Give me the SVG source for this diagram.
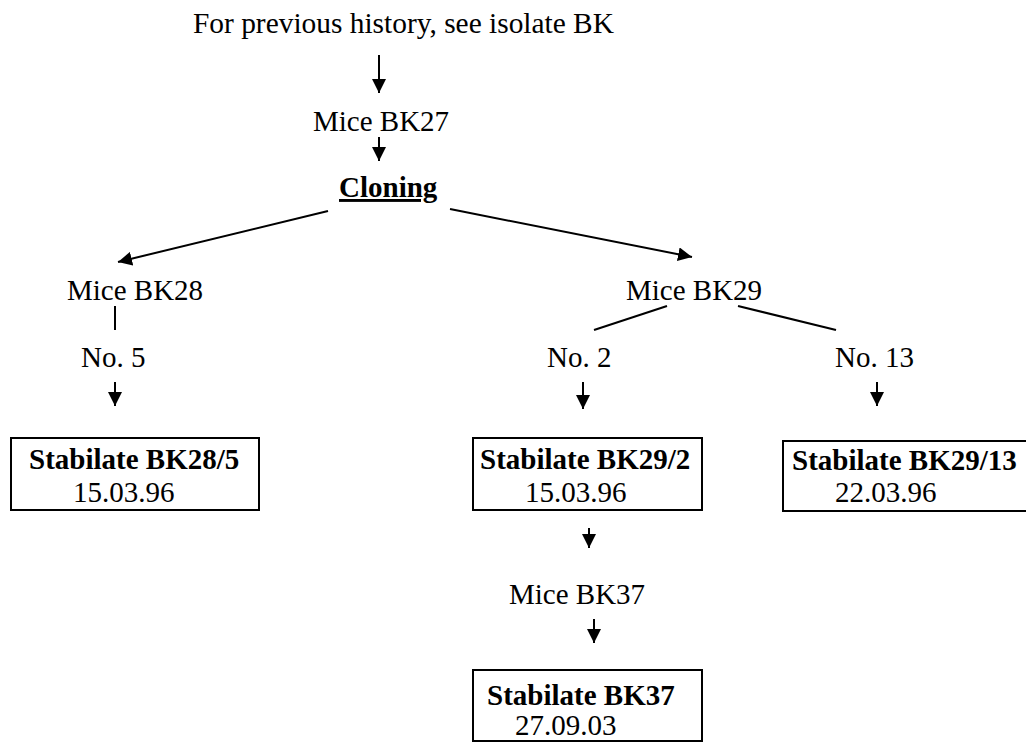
<svg xmlns="http://www.w3.org/2000/svg" width="1026" height="742" viewBox="0 0 1026 742">
<style>
text{font-family:"Liberation Serif","Times New Roman",serif;font-size:29px;fill:#000}
.b{font-weight:bold}
.box{fill:#fff;stroke:#000;stroke-width:2}
.ln{stroke:#000;stroke-width:2;fill:none}
</style>
<defs>
<marker id="ah" viewBox="0 0 14 14" refX="14" refY="7" markerWidth="14" markerHeight="14" markerUnits="userSpaceOnUse" orient="auto">
<path d="M0,0 L14,7 L0,14 Z" fill="#000"/>
</marker>
</defs>
<rect width="1026" height="742" fill="#fff"/>
<g id="connectors">
<line class="ln" x1="379" y1="55" x2="379" y2="93" marker-end="url(#ah)"/>
<line class="ln" x1="379" y1="137" x2="379" y2="161" marker-end="url(#ah)"/>
<line class="ln" x1="328" y1="211" x2="118" y2="262" marker-end="url(#ah)"/>
<line class="ln" x1="450" y1="209" x2="692" y2="257" marker-end="url(#ah)"/>
<line class="ln" x1="115" y1="306" x2="115" y2="330"/>
<line class="ln" x1="115" y1="382" x2="115" y2="406" marker-end="url(#ah)"/>
<line class="ln" x1="667" y1="306" x2="594" y2="330"/>
<line class="ln" x1="738" y1="306" x2="836" y2="330"/>
<line class="ln" x1="583" y1="382" x2="583" y2="409" marker-end="url(#ah)"/>
<line class="ln" x1="877" y1="382" x2="877" y2="406" marker-end="url(#ah)"/>
<line class="ln" x1="589" y1="528" x2="589" y2="548" marker-end="url(#ah)"/>
<line class="ln" x1="594" y1="619" x2="594" y2="643" marker-end="url(#ah)"/>
</g>
<g id="n-history"><text x="193" y="33" style="font-size:29.4px">For previous history, see isolate BK</text></g>
<g id="n-bk27"><text x="313" y="131">Mice BK27</text></g>
<g id="n-cloning"><text class="b" x="339" y="197" text-decoration="underline">Cloning</text></g>
<g id="n-bk28"><text x="67" y="300">Mice BK28</text></g>
<g id="n-no5"><text x="81" y="367">No. 5</text></g>
<g id="n-bk29"><text x="626" y="300">Mice BK29</text></g>
<g id="n-no2"><text x="547" y="367">No. 2</text></g>
<g id="n-no13"><text x="835" y="367">No. 13</text></g>
<g id="n-st285">
<rect class="box" x="11" y="438" width="248" height="72"/>
<text class="b" x="29" y="469">Stabilate BK28/5</text>
<text x="73" y="502">15.03.96</text>
</g>
<g id="n-st292">
<rect class="box" x="473" y="438" width="229" height="72"/>
<text class="b" x="480" y="469">Stabilate BK29/2</text>
<text x="525" y="502">15.03.96</text>
</g>
<g id="n-st2913">
<rect class="box" x="783" y="441" width="250" height="70"/>
<text class="b" x="792" y="470">Stabilate BK29/13</text>
<text x="835" y="502">22.03.96</text>
</g>
<g id="n-bk37"><text x="509" y="604">Mice BK37</text></g>
<g id="n-st37">
<rect class="box" x="473" y="670" width="229" height="71"/>
<text class="b" x="487" y="705">Stabilate BK37</text>
<text x="515" y="735">27.09.03</text>
</g>
</svg>
